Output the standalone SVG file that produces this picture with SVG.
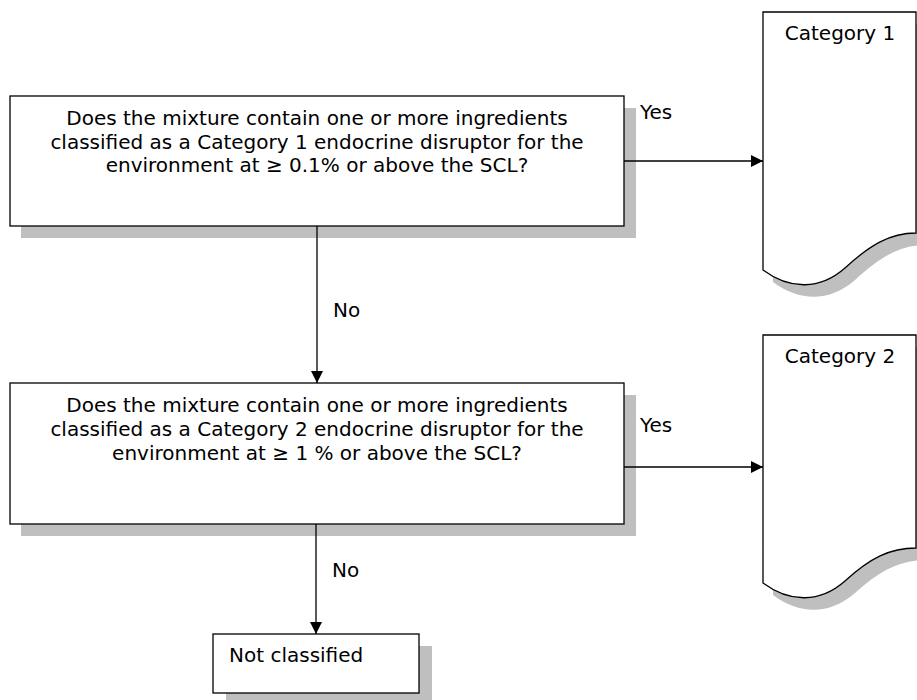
<svg xmlns="http://www.w3.org/2000/svg" width="917" height="700" viewBox="0 0 917 700">
  <style>
    .shape { fill: #ffffff; stroke: #000000; stroke-width: 1.3; }
    .shadow { fill: #bfbfbf; stroke: none; }
    .edge { fill: none; stroke: #000000; stroke-width: 1.3; }
    text { font-family: "DejaVu Sans", Verdana, sans-serif; font-size: 20px; fill: #000000; }
    .mid { text-anchor: middle; }
  </style>
  <defs>
    <marker id="arrow" viewBox="0 0 12 12" refX="12" refY="6" markerWidth="12" markerHeight="12" markerUnits="userSpaceOnUse" orient="auto">
      <path d="M0,0 L12,6 L0,12 Z" fill="#000000"/>
    </marker>
  </defs>

  <rect width="917" height="700" fill="#ffffff"/>

  <!-- Question 1 -->
  <g id="q1">
    <rect class="shadow" x="21" y="108" width="615" height="130"/>
    <rect class="shape" x="10" y="96" width="614" height="130"/>
    <text class="mid" x="317" y="125">Does the mixture contain one or more ingredients</text>
    <text class="mid" x="317" y="148.5">classified as a Category 1 endocrine disruptor for the</text>
    <text class="mid" x="317" y="172">environment at ≥ 0.1% or above the SCL?</text>
  </g>

  <!-- Question 2 -->
  <g id="q2">
    <rect class="shadow" x="21" y="395" width="615" height="141"/>
    <rect class="shape" x="10" y="383" width="614" height="141"/>
    <text class="mid" x="317" y="412">Does the mixture contain one or more ingredients</text>
    <text class="mid" x="317" y="436">classified as a Category 2 endocrine disruptor for the</text>
    <text class="mid" x="317" y="460">environment at ≥ 1 % or above the SCL?</text>
  </g>

  <!-- Category 1 result (document shape) -->
  <g id="cat1">
    <path class="shadow" d="M773,282 C800,302 830,302 855,280 C880,257 900,245 926,245 V24 H773 Z"/>
    <path class="shape" d="M763,270 C790,290 820,290 845,268 C870,245 890,233 916,233 V12 H763 Z"/>
    <text class="mid" x="840" y="40">Category 1</text>
  </g>

  <!-- Category 2 result (document shape) -->
  <g id="cat2">
    <path class="shadow" d="M773,595 C800,615 830,615 855,593 C880,570 900,560 926,560 V347 H773 Z"/>
    <path class="shape" d="M763,583 C790,603 820,603 845,581 C870,558 890,548 916,548 V335 H763 Z"/>
    <text class="mid" x="840" y="363">Category 2</text>
  </g>

  <!-- Not classified -->
  <g id="notclassified">
    <rect class="shadow" x="226" y="646" width="206" height="59"/>
    <rect class="shape" x="213" y="634" width="206" height="59"/>
    <text x="229" y="662">Not classified</text>
  </g>

  <!-- Connectors -->
  <g id="connectors">
    <line class="edge" x1="624" y1="161" x2="763" y2="161" marker-end="url(#arrow)"/>
    <text x="640" y="119">Yes</text>
    <line class="edge" x1="317" y1="226" x2="317" y2="383" marker-end="url(#arrow)"/>
    <text x="333" y="317">No</text>
    <line class="edge" x1="624" y1="467" x2="763" y2="467" marker-end="url(#arrow)"/>
    <text x="640" y="432">Yes</text>
    <line class="edge" x1="316" y1="524" x2="316" y2="634" marker-end="url(#arrow)"/>
    <text x="332" y="577">No</text>
  </g>
</svg>
